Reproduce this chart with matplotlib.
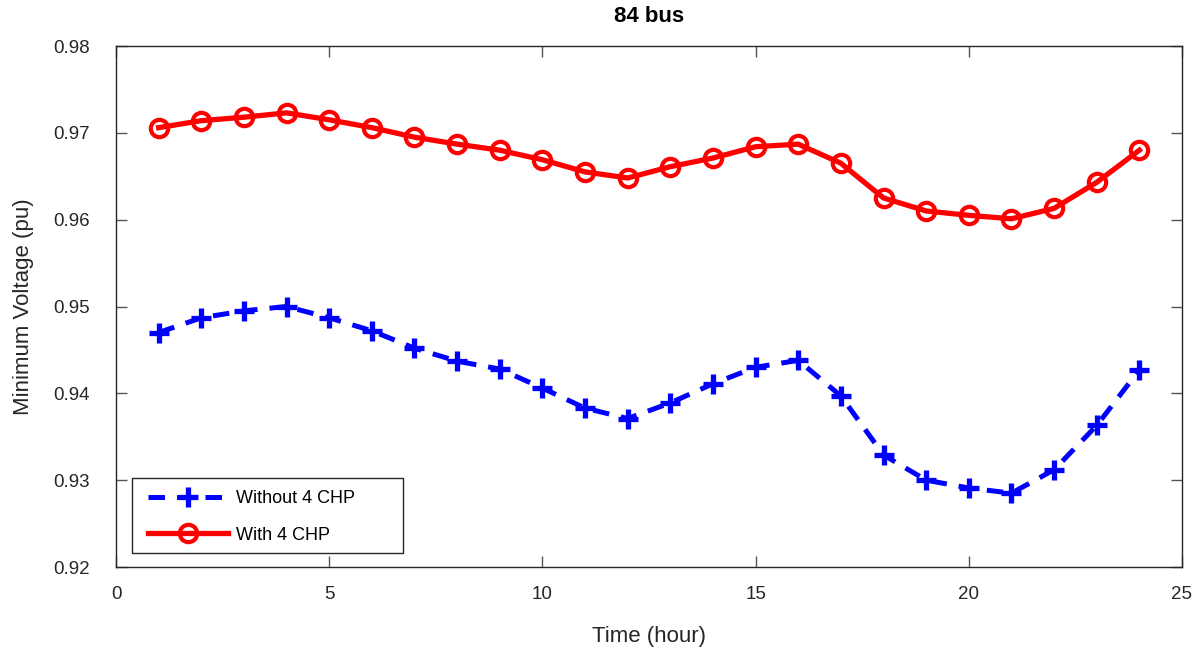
import numpy as np
import matplotlib
matplotlib.use("Agg")
import matplotlib.pyplot as plt
from matplotlib.patches import Rectangle

plt.rcParams['font.family'] = ['Liberation Sans', 'DejaVu Sans']

hours = list(range(1, 25))
with_chp = [0.9706, 0.9714, 0.9718, 0.9723, 0.9715, 0.9706, 0.9695, 0.9687,
            0.9680, 0.9669, 0.9655, 0.9648, 0.9661, 0.9671, 0.9684, 0.9687,
            0.9665, 0.9625, 0.9610, 0.9605, 0.9601, 0.9613, 0.9643, 0.9680]
without_chp = [0.9470, 0.9487, 0.9495, 0.9500, 0.9487, 0.9472, 0.9452, 0.9437,
               0.9428, 0.9406, 0.9383, 0.9371, 0.9389, 0.9411, 0.9430, 0.9438,
               0.9397, 0.9329, 0.9300, 0.9291, 0.9285, 0.9312, 0.9363, 0.9427]

W, H = 1198, 649
fig = plt.figure(figsize=(W / 100, H / 100), dpi=100)
ax = fig.add_axes([116 / W, 1 - 567 / H, (1182 - 116) / W, (567 - 46) / H])

ax.plot(hours, without_chp, color='blue', linestyle=(0, (3.3, 2.4)), linewidth=3.6,
        marker='+', markersize=14, markeredgewidth=3.8, label='Without 4 CHP')
ax.plot(hours, with_chp, color='red', linestyle='-', linewidth=3.8,
        marker='o', markersize=12.5, markerfacecolor='none', markeredgewidth=3,
        label='With 4 CHP')

ax.set_xlim(0, 25)
ax.set_ylim(0.92, 0.98)
ax.set_xticks([0, 5, 10, 15, 20, 25])
ax.set_yticks([0.92, 0.93, 0.94, 0.95, 0.96, 0.97, 0.98])
ax.set_yticklabels(['0.92', '0.93', '0.94', '0.95', '0.96', '0.97', '0.98'])
ax.tick_params(direction='in', top=True, right=True, length=8, width=1,
               color='#555555', labelcolor='#262626', labelsize=13.5)
ax.tick_params(axis='y', pad=19)
ax.tick_params(axis='x', pad=14)
for s in ax.spines.values():
    s.set_linewidth(1)
    s.set_color('#262626')

ax.set_xlabel('Time (hour)', fontsize=16, labelpad=16, color='#262626')
ax.set_ylabel('Minimum Voltage (pu)', fontsize=16, labelpad=14, color='#262626')
ax.set_title('84 bus', fontsize=16, fontweight='bold', pad=17)

leg = ax.legend(loc='upper left', bbox_to_anchor=(16 / 1066, 1 - (474 - 46) / 521),
                borderaxespad=0, fontsize=13, numpoints=1, handlelength=4.4,
                handletextpad=0.45, borderpad=0.9, labelspacing=1.08,
                frameon=False)
ax.add_patch(Rectangle((16 / 1066, 14 / 521), (403 - 132) / 1066, (553 - 478) / 521,
                       transform=ax.transAxes, fill=True, facecolor='white',
                       edgecolor='#262626', linewidth=1, zorder=4))
leg.set_zorder(5)

fig.savefig('out.png', dpi=100)
